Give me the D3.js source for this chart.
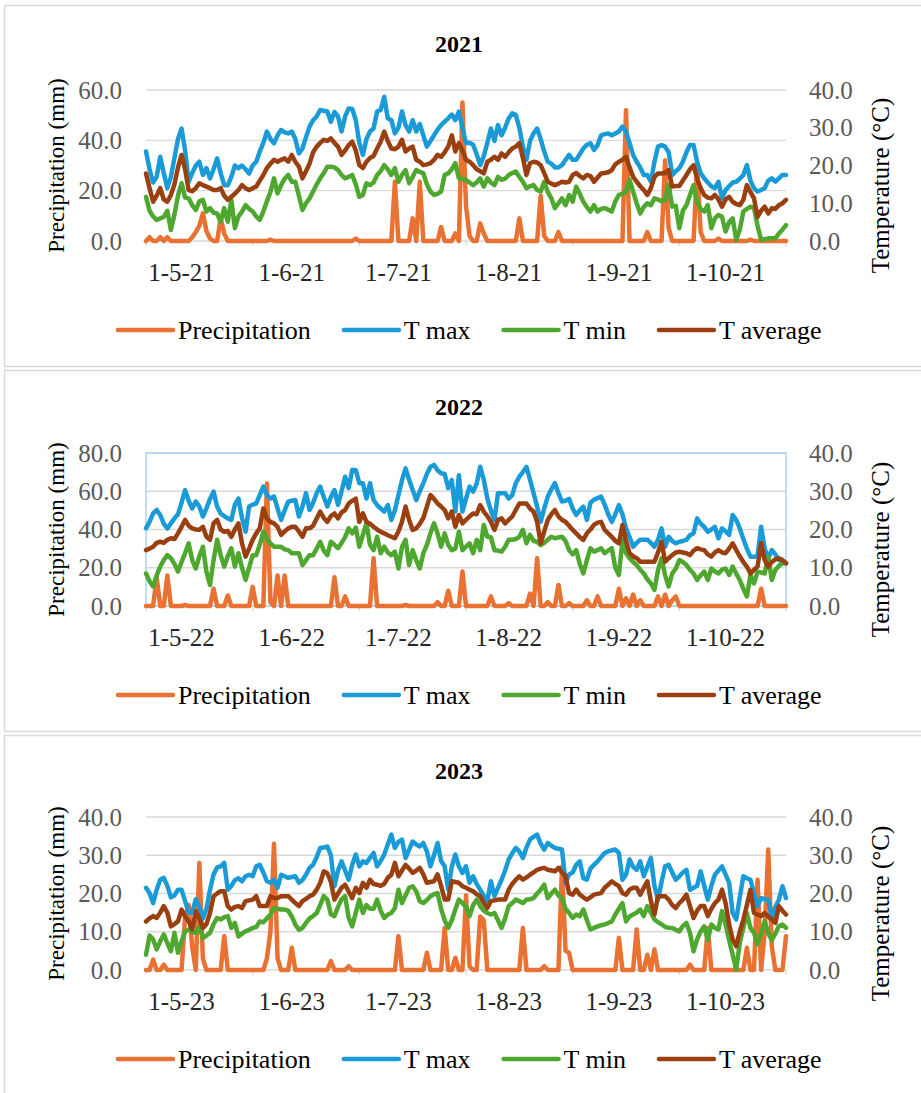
<!DOCTYPE html>
<html>
<head>
<meta charset="utf-8">
<script src="https://cdn.jsdelivr.net/npm/d3@7"></script>
<style>
  body { margin: 0; background: #fff; }
  text { font-family: "Liberation Serif", "Times New Roman", serif; }
</style>
</head>
<body>
<svg id="chart" width="921" height="1093"></svg>
<script>
// one panel per season, daily values from 21 April to 18 October
var years = ['2021', '2022', '2023'];
var startDates = ['2021-04-21', '2022-04-21', '2023-04-21'];
var seriesNames = ['Precipitation', 'T max', 'T min', 'T average'];
var precipTicks2021 = [0, 20, 40, 60];
var precipTicks2022 = [0, 20, 40, 60, 80];
var precipTicks2023 = [0, 10, 20, 30, 40];
var tempTicks = [0, 10, 20, 30, 40];

var precip2021 = [
  0,1.5,0,0,1.5,0,1.5,0,0,0, 0,0,0,1.5,3.5,6,11,4,1,0, 0,9,3,0,0,0,0,0,0,0,
  0,0,0,0,0,0.5,0,0,0,0, 0,0,0,0,0,0,0,0,0,0, 0,0,0,0,0,0,0,0,0,1,
  0,0,0,0,0,0,0,0,0,0, 23.5,0,0,0,0,9,0,23.5,0,0, 0,0,0,5.5,0,0,0,3,0,55,
  14,2,0,0,7,3,0,0,0,0, 0,0,0,0,0,9,0,0,0,0, 0,18,2,0,0,0,3.5,0,0,0,
  0,0,0,0,0,0,0,0,0,0, 0,0,0,0,0,52,0,0,0,0, 0,3.5,0,0,0,0,32,5,0,0,
  0,0,0,0,0,30,3.5,0,0,0, 0,1,0,0,0,0,0,0,0,0, 0.5,0,0,0,0,0,0,0,0,0, 0
];
var tmax2021 = [
  23.7,19,15.5,17,22.3,18,14,17,22,27, 29.8,24,15.7,18,20,21,17.5,19.3,16.6,19,
  21.9,18,14.8,14.8,17,20,19.3,20,19,17.9, 20,21,23.7,26,29,27,25.9,28,29.4,28.8,
  28.5,29,27,23.2,24.5,27.5,30.3,32,33,34.7, 34.5,34.3,31.6,34.2,33,29,33,35.1,35,32,
  26,22.8,27,29,29.8,34.3,34.7,38.2,32.5,32, 28.5,30,34.3,30.7,29,32,29,31,28,25,
  26.5,28,29.5,30.7,31.6,32.5,33.5,32,34.3,30, 25.9,26,25.5,23,20.1,22.5,26,29.8,26.5,30.7,
  28,30,32.5,33.8,33.4,30,25,21.5,26.5,28.5, 29.8,27,23.7,21,20.5,19.5,19.5,20.1,21.5,22.8,
  21.5,21.5,23,24.5,25.5,25.9,24.1,25.4,28,28.3, 28.5,28,28.5,29,30.3,29,26,22.8,21,19.5,
  17.5,17.5,15.7,21,25,25.4,25,23.5,17.5,18.5, 19.3,21,23.5,25.4,25.4,21,18,16.6,15.5,14.5,
  14,15.7,11.3,13.5,14.5,15.5,15.7,16.5,17.5,20.1, 16,14,13.1,13.5,14,16,16.6,15.7,16.6,17.5, 17.5
];
var tmin2021 = [
  11.7,8,6.5,5.6,6,6.4,8,2.9,7,12, 15.3,11.5,11.3,9.5,8.2,10.5,10.9,7.8,8.7,7.5,
  7.3,5.1,8.7,5.1,10.9,3.4,6.5,7.8,9.5,8.5, 7.8,6.5,5.6,7.8,10.5,13,16.6,12.6,14.8,16.5,
  17.5,15.7,15.7,12,8.2,10,11.3,13.1,15,16.6, 18,19.7,19.7,19.5,18.8,17.5,16.6,17,17.5,15,
  11.7,12.2,15.3,14.8,15.5,17.5,18.5,20.1,19,17.5, 19.3,15.7,17.5,18.8,15.3,17,18.8,18.3,17.9,15,
  13.1,12.2,12.5,13.1,17.5,17.9,19,20.6,16.6,16.4, 16.2,15.5,14.8,15.5,16.6,14.4,16.6,15.5,14.8,17,
  16.2,16.5,17.5,18,18.4,17,15.7,14,14.5,14.8, 13.5,13.1,15.7,13,11.3,8.7,10,11.3,9.5,12.2,
  10.4,14.4,12.5,10.4,9,7.8,9.5,7.8,8.5,8.7, 8.3,7.8,10.5,12.2,12.5,13.1,16.2,13.1,10,7.3,
  9,10,9.5,11.3,11,10.5,10.9,14.8,9.1,9.3, 3.4,8,9.5,12.2,14.8,10.4,8.5,7.8,9.5,3.4,
  6,6.9,6.4,2.5,5,6,0.3,3,7.8,8.5, 9.1,8.8,4,0.3,0.5,0.7,0.7,0.7,2,3, 4.2
];
var tavg2021 = [
  17.9,14,10.4,12,14,11,10.4,12.2,15,19.5, 22.8,19,13.5,13.2,14,15.3,14.8,14.4,14,13.5,
  13.5,14,12,10.9,11.7,12.5,13.5,14.8,14,13.5, 14,14.4,16,17.5,19.3,20.5,21.5,21,21.5,21.9,
  21,22.8,21,19.7,16.6,18.5,20.5,23.5,25,26, 26.8,26.5,27.2,26,25,22.8,24,25.4,26.3,24,
  20.1,19.3,21,22,22.5,24.5,26.3,29,26.5,24.5, 24.3,25,26.8,23.7,24.5,25,21.5,21,20.1,20.3,
  20.6,21.5,22.8,22.3,23.5,25,28,23.7,25.9,24, 21.5,21,20.1,19,18.5,17.9,21,21.5,22.3,21.5,
  23.2,22.3,23.5,24.5,25,25.9,22,17.5,20.6,21, 20.8,20.1,18,15.7,15.2,14.8,15.2,15.7,15.5,15.7,
  17.5,18,17.2,16.6,17.5,17.2,15.7,16.8,17.9,18, 18.2,18.8,20.3,21,21.5,22.3,19.5,17,15.7,14.5,
  13.5,12.2,14,17,17.9,17.9,18,18.8,14.4,14.6, 14.6,16,17.5,19,20.1,16.5,14,12.2,11.5,11.3,
  12.2,11,9.1,11,11.7,10.4,9.8,9.5,10.9,14.8, 13,11.3,6.4,8,9.1,7.3,8.7,8.5,9.5,10, 10.9
];

var precip2022 = [
  0,0,0,15,0,0,16,0,0,0, 0,0.5,0,0,0,0,0,0,0,9, 0,0,0,5.5,0,0,0,0,0,0,
  10,0,0,0,64,2,0,16,0,16, 0,0,0,0,0,0,0,0,0,0, 0,0,0,15,0,0,5,0,0,0,
  0,0,0,0,25,0,0,0,0,0, 0,0,0,0.5,0,0,0,0,0,0, 0,0,2,0,0,8,0,0,0,18,
  0,0,0,0,0,0,0,5,0,0, 0,0,1.5,0,0,0,0,0,6.5,0, 25,0,0,2,0,0,11,0,0,1.5,
  0,0,0,0,3,0,0,5,0,0, 0,0,0,9,0,4,0,6,0,3, 0,0,0,0,5,0,6,0,3,5,
  0,0,0,0,0,0,0,0,0,0, 0,0,0,0,0,0,0,0,0,0, 0,0,0,9,0,0,0,0,0,0, 0
];
var tmax2022 = [
  20.3,22,24.2,25.1,23.8,21.5,20.3,21.6,22.9,24, 27,30.3,27.5,25.5,27.3,26,23.4,25.5,28,29.9,
  26,24.2,23.5,22.9,22.5,26.5,28.1,23,19.4,26, 26.5,26.8,29,31.2,29,28.1,28.6,25.5,22.5,25,
  27.3,27.5,27.7,23.4,26,29.5,25.1,27,29.5,31.2, 28.5,26,28.5,30.3,26.4,30,33.8,30.8,35.6,35.5,
  32.1,32.1,28.1,32.1,27.7,26.4,25.5,24.7,26.4,22.5, 25,29,32.9,36,33,30.3,27.7,30,32.1,34.5,
  36.4,36.9,35.5,34.7,34.5,30.8,32.9,24.7,34.2,24.7, 28,31.2,29.9,32,36.4,33,28.1,25,22.5,29.5,
  29.5,29.5,28.1,29,32.1,33.8,35,36.4,33,29.5, 26,22,25.5,28.6,30.5,32.1,29.5,27.3,27.5,28,
  25.5,23.8,25,26,22.5,27,27.8,28.2,28.6,26.5, 24,22,24,26.4,24,20.3,18,15.5,16.5,17.3,
  17.3,17.3,16.5,15.5,17.3,20.3,15.5,18.1,17,16.4, 16.8,17,17.3,18.5,19,22.9,21.5,20.7,19.4,20,
  20.7,17.7,20.3,19.5,18.6,23.8,22.5,20.3,17.5,15, 12.9,12.9,13,20.7,15,12.5,14.6,13.5,12,11.8, 11.2
];
var tmin2022 = [
  8.5,6.5,5.1,8,10.3,12,13.3,12.5,11,9, 11.5,13.8,16.4,12,9.8,13,15.5,9,5.5,12,
  17.3,13.3,10.3,13,15.1,10.3,13.8,10,6.8,10, 13.3,13.3,16,19.4,17.5,16.4,15.5,15.5,15.5,14.8,
  14.6,13.8,13.8,13.8,10.7,12,13.3,13.3,15,16.8, 14.5,13.3,16.8,16,15.1,16.5,18,20.3,19,20.5,
  15.5,18.6,21.6,16,14.6,18.1,13.8,15.5,14,13.3, 14.2,9.8,15.5,17.3,10.7,14.6,12,9.8,13.8,16,
  19,21.6,19,15.5,19,16,14.6,15,19.4,14.6, 15.5,16.4,13.8,17.3,14.6,21.2,18.1,18,14.6,14.5,
  14.2,15.5,17.3,17.3,17.5,18.1,19.9,16.4,18.6,17, 16.8,15.9,16.5,17.3,18.1,17.7,17.9,18.1,17,14.6,
  13.5,14.6,11,8.5,12,15.1,14.2,14.6,15.1,13.8, 14.5,15.1,10,8.1,17.3,13.8,12.5,11.5,10.7,9.5,
  8.5,7,5.9,4.2,9.4,12.5,8,5.1,8.5,9.8, 12,11.5,10.7,9.5,8.5,6.8,8,9,6.8,9.8,
  9,8.5,9.5,9.8,8.1,10.3,8.5,6.8,4.5,2.5, 8.1,5.9,9,8.8,8.5,12.9,6.8,9.4,10.5,11.2, 11.2
];
var tavg2022 = [
  14.6,15,15.5,16.5,16.8,16.5,17.3,17.7,17.5,19, 20.7,22.5,21,20.3,20,19.9,20.7,18.1,17.3,21.6,
  22.5,20,19.4,19.6,18.1,20,21.6,16.4,12.9,15, 17.3,19,20.3,25.5,22.9,22,21.6,20.7,18.6,19.5,
  20.3,20.7,20.7,19.5,18.1,20.3,20.3,21,22.9,24.7, 23,22,23.5,24.2,22.9,24.5,25.1,26.8,27.5,28.1,
  22,24.2,22,21.5,20.7,20,19.4,19,18.5,18.1, 17.7,19.5,22,26,22.5,19.9,20.3,21.5,23,26,
  29,28,26.8,26,25.1,22.9,24.7,20.7,23.8,21.6, 22.5,23.4,24.2,24,26.4,24.7,23.5,22,19.9,22.5,
  22.9,21.6,22.5,23.4,25.1,26.8,26.8,26.8,25.5,24.7, 22,16.4,19.5,22.5,24,25.1,23.4,22.5,22,21,
  19.9,19,18,17.3,19,20,21.2,21.8,22,19.9, 19,18.1,17,16.4,21.2,17,13.8,13,12.5,11.6,
  11.6,11.6,11.6,11.6,14,16.8,11.6,12.5,13.3,14, 14.2,14,13.8,13.3,14.5,15.1,14.8,14.6,13.5,12.9,
  14,14.6,14,13.8,15,16.4,14.6,13,11.5,10.3, 8.5,9.5,10.3,16.4,12,10.3,11.5,12.2,12.5,12, 11.2
];

var precip2023 = [
  0,0,2.7,0,0,1.4,0,0,0,0, 0,14,17,6,0,28,3,0,0,0, 0,0,8.8,0,0,0,0,0,0,0,
  0,0,0,0,3,10,33,3,0,0, 0,5.8,0,0,0,0,0,0,0,0, 0,0,2.3,0,0,0,0,1,0,0,
  0,0,0,0,0,0,0,0,0,0, 0,8.8,0,0,0,0,0,0,0,4.5, 0,0,0,0,11,0,0,3.2,0,0,
  19.5,1,0,0,14,13,0,0,0,0, 0,0,0,0,0,0,11,0,0,0, 0,0,1,0,0,0,0,27,5,4.5,
  0,0,0,0,0,0,0,0,0,0, 0,0,0,8.4,0,0,0,0,10.6,0, 0,4,0,5.4,0,0,0,0,0,0,
  0,0,0,1.4,0,0,0,0,11,0, 0,0,0,0,0,0,0,0,0,5.8, 0,0,23.6,0,9.7,31.5,6.2,0,0,0, 8.8
];
var tmax2023 = [
  21.5,20.1,17.5,21,23.6,24.1,22,19,19.5,21, 21,18,15,15,18.5,16.5,13.5,16,21,25,
  26.8,27.1,28,21,22,23.5,24,23.2,24.5,24.9, 24.5,27.1,27.5,25.5,23.2,22.8,23.6,21.5,24.9,24.5,
  24.1,24.3,24.5,22.8,23.5,24.9,26.7,27.5,29.5,31.9, 32,32.3,30,21.9,26,28.4,26,23.6,27.5,30.2,
  27.1,28.4,28,29.3,30.6,27.1,28.5,30.2,32.8,35.4, 31.9,33.5,34.1,29.3,31.5,33.6,32.8,32.3,33.2,31,
  27.1,30,33.2,28.5,27.1,21,27,30.2,27.1,25.4, 27.1,22.8,24.5,22.5,21,19.3,18,23.2,19.3,21.5,
  23.6,26,28.9,30.5,31.9,31,29.3,32,34.1,34.8, 35.4,33,31.5,33.2,32.5,31.9,31.7,31.5,22.8,25,
  25.5,27.5,28.4,24,23.6,26.5,27.5,28.4,29.5,30.6, 31,31.3,31.5,30.6,23.6,24.9,28.9,27,26.2,28.4,
  24.5,27,29.3,22,18.4,23,27.1,27.5,25.5,23.6, 24.5,25.5,26.2,21,21.5,22,25.8,22,18.4,22,
  24.9,26,27.1,25,22.8,14.9,13.2,19,24.5,24, 23.6,20,16.7,18.8,18.5,18.4,13.6,16.5,18.4,21.9, 18.8
];
var tmin2023 = [
  4,9,8,5.4,7.5,9.3,7,4.9,9.7,4.5, 7.5,10.1,10.6,10,9.7,11.4,8.4,9,9.7,12,
  13.6,13.2,13.8,14.1,11,12.3,8.8,9.5,10.1,10.5, 11,11.2,12.7,12.5,13.5,14.5,16.2,16,15.8,15.8,
  15.5,14,11.9,10.5,11,12.3,13.5,14.1,14.9,17, 19.3,18.4,14.5,14.1,16.5,18.5,19.3,13.6,11.4,15,
  18.4,14.9,17,16,16,18.4,15.5,13.6,14.5,14.9, 16.2,21,17.5,19.5,21.5,21.9,20.6,18,17.5,18.3,
  19.3,19.8,20.1,16,13,11,13,15.8,18.4,17.5, 16.5,14.1,17,18.4,16.7,15.5,14.9,14.5,14.9,13,
  11,13.5,16.7,17.5,18.4,18,17.5,18.4,18.5,18.8, 20,21,22.3,18.8,20,21,19.5,18.8,16,14.9,
  13.6,14.5,14.1,15.8,13,10.6,11,11.4,11.7,11.9, 12.3,12.7,14.5,16,17.5,12.7,14,14.5,15,15.8,
  14.1,16.7,15,13.2,12.5,11.9,11.3,11,11,10.5, 10.1,11.5,12.3,9.7,4.9,8,10.1,11.4,7.8,11.9,
  11,10.6,15.4,12,7.8,4,0.1,7.1,11,14.9, 11,9.7,6.7,9.5,12.7,9.7,7.8,9.5,11.5,11.9, 11
];
var tavg2023 = [
  12.7,13.5,14.1,13.6,15,16.7,15,11.4,12,12.7, 15.8,14,12.7,10.6,15.4,13.5,11,12,14.9,19.3,
  20,20.6,20.6,16.7,15.8,16.5,16.7,16.2,18,18.2, 18.4,19.3,16.7,16.7,16.7,19.3,18.8,18.8,19.3,19.3,
  19.3,18.4,17.5,16.7,18,18.6,19.3,19.7,21,22.8, 25.8,25.3,23,18.4,20,21.5,22.3,20.5,18.8,21.5,
  20.1,22.8,21.5,23.6,22.5,22.3,22,22.5,24.1,24.9, 28,24.5,26,27.5,26.5,25.4,26,26.7,25,22.8,
  23,23.2,25,22,18.4,18.4,23.2,23,22.8,21.9, 21.5,21,20.6,19.8,19.3,17.5,16.2,18,18.2,18.4,
  18.4,18.4,21,22.5,23.6,24.5,23.6,24.2,24.9,25.5, 26.2,26.5,26.7,26.2,26,25.8,26.7,25.5,24.5,20.1,
  19.7,21,19.7,19,18.4,19,19.7,19.9,20.1,21.5, 22.3,23.2,22.5,21.9,20.1,19.7,21,21.5,21.5,19.7,
  21.5,23.2,18,14.5,19.3,19.3,19.3,18.4,17,16.2, 17.5,18.4,19.7,16.7,13.6,15.5,16.7,16.7,14.1,16,
  17.5,18.4,21,17.5,12,8,6.2,10,13.2,17, 21,14.9,14.5,14.1,14.9,14,13.2,12.3,16.7,15.5, 14.5
];

var colors = {
  'Precipitation': '#E97132',
  'T max': '#1A9BD7',
  'T min': '#4EA72E',
  'T average': '#9A3F10'
};

var panels = [
  { year: years[0], start: startDates[0], pTicks: precipTicks2021,
    series: [precip2021, tmax2021, tmin2021, tavg2021] },
  { year: years[1], start: startDates[1], pTicks: precipTicks2022,
    series: [precip2022, tmax2022, tmin2022, tavg2022] },
  { year: years[2], start: startDates[2], pTicks: precipTicks2023,
    series: [precip2023, tmax2023, tmin2023, tavg2023] }
];

// layout of the three stacked boxes
var boxTops = [5, 370, 735];
var plotTops = [90, 453, 817];
var plotHeights = [151, 153, 153];
var plotLeft = 146, plotRight = 786;
var fontSize = 25;
var lineW = 4.5;

var svg = d3.select('#chart');
var parseDate = d3.timeParse('%Y-%m-%d');
var fmtDate = d3.timeFormat('%-d-%-m-%y');
var fmtVal = d3.format('.1f');

panels.forEach(function(p, pi) {
  var g = svg.append('g').attr('class', 'panel-' + p.year);
  var top = plotTops[pi], bottom = top + plotHeights[pi];
  var start = parseDate(p.start);
  var n = p.series[0].length;
  var end = d3.timeDay.offset(start, n - 1);

  var x = d3.scaleTime().domain([start, end]).range([plotLeft, plotRight]);
  var yP = d3.scaleLinear().domain([0, d3.max(p.pTicks)]).range([bottom, top]);
  var yT = d3.scaleLinear().domain([0, d3.max(tempTicks)]).range([bottom, top]);

  g.append('rect')
    .attr('x', 4.5).attr('y', boxTops[pi] + 0.5)
    .attr('width', 930).attr('height', 361)
    .attr('fill', 'none').attr('stroke', '#D9D9D9').attr('stroke-width', 1.5);

  // gridlines from the precipitation axis
  g.selectAll('line.grid').data(p.pTicks).enter().append('line')
    .attr('class', 'grid')
    .attr('x1', plotLeft).attr('x2', plotRight)
    .attr('y1', function(d) { return yP(d); })
    .attr('y2', function(d) { return yP(d); })
    .attr('stroke', '#D9D9D9').attr('stroke-width', 1.3);

  if (pi === 1) {
    g.append('rect')
      .attr('x', plotLeft).attr('y', top)
      .attr('width', plotRight - plotLeft).attr('height', bottom - top)
      .attr('fill', 'none').attr('stroke', '#A9D3EE').attr('stroke-width', 1.5);
  }

  // x tick marks every 30 days
  var tickDays = d3.range(0, n, 30);
  g.selectAll('line.xtick').data(tickDays).enter().append('line')
    .attr('class', 'xtick')
    .attr('x1', function(d) { return x(d3.timeDay.offset(start, d)); })
    .attr('x2', function(d) { return x(d3.timeDay.offset(start, d)); })
    .attr('y1', bottom).attr('y2', bottom + 5)
    .attr('stroke', '#D9D9D9').attr('stroke-width', 1.3);

  var months = d3.timeMonth.range(d3.timeDay.offset(start, 1), end);
  g.selectAll('text.xlab').data(months).enter().append('text')
    .attr('class', 'xlab')
    .attr('x', function(d) { return x(d); })
    .attr('y', bottom + 31)
    .attr('text-anchor', 'middle').attr('dominant-baseline', 'central')
    .attr('font-size', fontSize).attr('fill', '#262626')
    .text(function(d) { return fmtDate(d); });

  g.selectAll('text.ylab').data(p.pTicks).enter().append('text')
    .attr('class', 'ylab')
    .attr('x', 122).attr('y', function(d) { return yP(d); })
    .attr('text-anchor', 'end').attr('dominant-baseline', 'central')
    .attr('font-size', fontSize).attr('fill', '#595959')
    .text(function(d) { return fmtVal(d); });

  g.selectAll('text.y2lab').data(tempTicks).enter().append('text')
    .attr('class', 'y2lab')
    .attr('x', 809).attr('y', function(d) { return yT(d); })
    .attr('text-anchor', 'start').attr('dominant-baseline', 'central')
    .attr('font-size', fontSize).attr('fill', '#595959')
    .text(function(d) { return fmtVal(d); });

  var midY = (top + bottom) / 2;
  g.append('text')
    .attr('transform', 'translate(56,' + midY + ') rotate(-90)')
    .attr('text-anchor', 'middle').attr('dominant-baseline', 'central')
    .attr('font-size', 23).attr('fill', '#000')
    .text('Precipitation (mm)');
  g.append('text')
    .attr('transform', 'translate(880,' + (midY + 20) + ') rotate(-90)')
    .attr('text-anchor', 'middle').attr('dominant-baseline', 'central')
    .attr('font-size', fontSize).attr('fill', '#000')
    .text('Temperature (°C)');

  g.append('text')
    .attr('x', 459).attr('y', top - 46)
    .attr('text-anchor', 'middle').attr('dominant-baseline', 'central')
    .attr('font-size', 24).attr('font-weight', 'bold').attr('fill', '#000')
    .text(p.year);

  // precipitation on the left axis first, temperatures over it
  seriesNames.forEach(function(name, si) {
    var yScale = si === 0 ? yP : yT;
    var line = d3.line()
      .x(function(d, i) { return x(d3.timeDay.offset(start, i)); })
      .y(function(d) { return yScale(d); });
    g.append('path')
      .datum(p.series[si])
      .attr('d', line)
      .attr('fill', 'none')
      .attr('stroke', colors[name])
      .attr('stroke-width', lineW)
      .attr('stroke-linejoin', 'round')
      .attr('stroke-linecap', 'round');
  });

  // legend
  var lg = g.append('g').attr('class', 'legend');
  var lx = 118, ly = bottom + 89;
  seriesNames.forEach(function(name) {
    lg.append('line')
      .attr('x1', lx).attr('x2', lx + 55)
      .attr('y1', ly).attr('y2', ly)
      .attr('stroke', colors[name]).attr('stroke-width', lineW)
      .attr('stroke-linecap', 'round');
    var t = lg.append('text')
      .attr('x', lx + 60).attr('y', ly)
      .attr('dominant-baseline', 'central')
      .attr('font-size', 26).attr('fill', '#000')
      .text(name);
    lx += 60 + t.node().getComputedTextLength() + 33;
  });
});
</script>
</body>
</html>
